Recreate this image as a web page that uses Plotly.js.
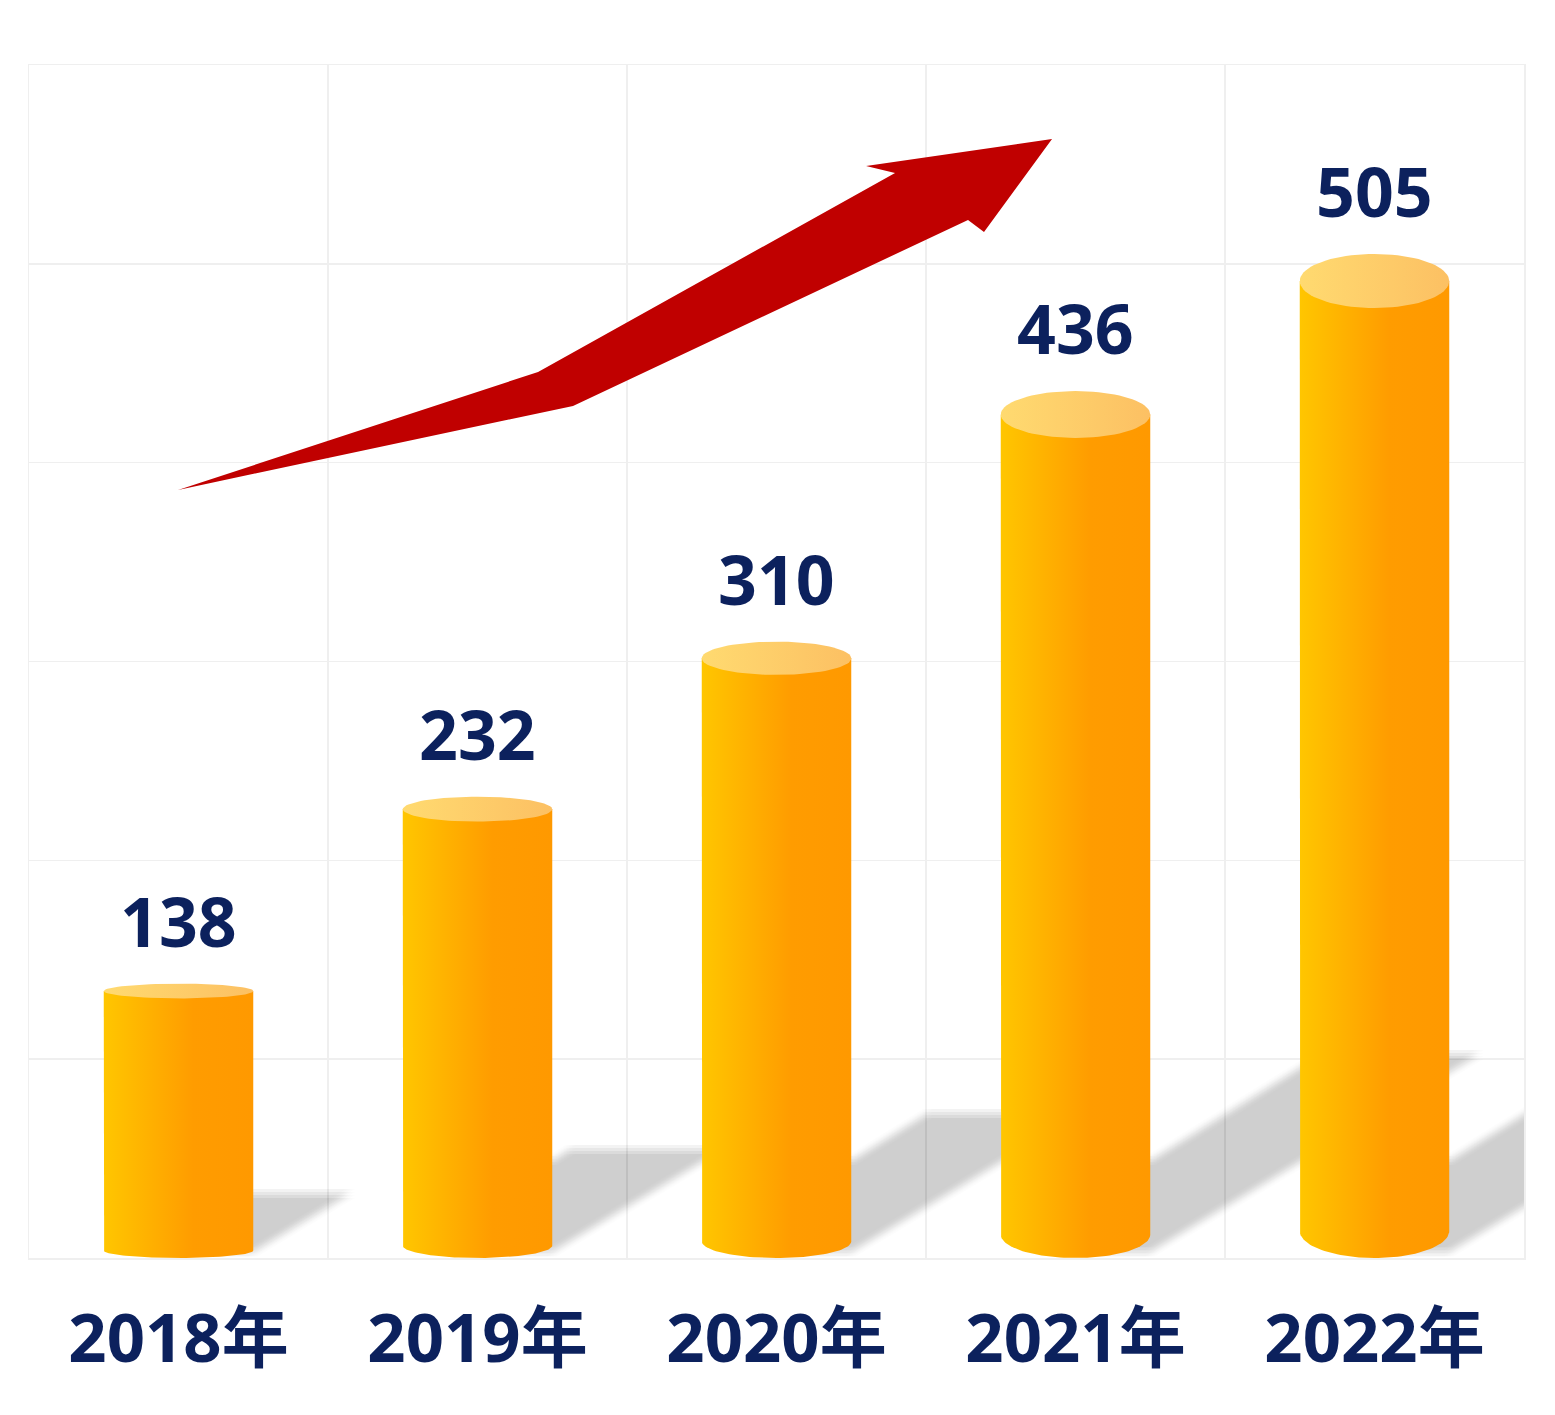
<!DOCTYPE html>
<html>
<head>
<meta charset="utf-8">
<script src="https://cdn.plot.ly/plotly-3.0.1.min.js"></script>
<style>html,body{margin:0;padding:0;background:#fff;}#chart{width:1555px;height:1415px;}</style>
</head>
<body>
<div id="chart"></div>
<script>
// ---- data ----
const years = ['2018年', '2019年', '2020年', '2021年', '2022年'];
const values = [138, 232, 310, 436, 505];

// ---- style / geometry constants ----
const NAVY = '#0c215d';
const FONT = "'Noto Sans', 'Noto Sans CJK SC', sans-serif";
const HALF_W = 0.25;          // half bar width in category units
const ELL_K = 0.027;          // ellipse half-height relative to value
const PX_X = 299, PX_Y = 1193 / 600; // pixels per unit (plot area 1495x1193)
const W = 1555, H = 1415, ML = 29, MR = 31, MT = 65, MB = 157;

function ellipsePts(cx, cy, rx, ry, a0, a1, n) {
  const xs = [], ys = [];
  for (let k = 0; k <= n; k++) {
    const t = a0 + (a1 - a0) * k / n;
    xs.push(cx + rx * Math.cos(t));
    ys.push(cy + ry * Math.sin(t));
  }
  return [xs, ys];
}

const traces = [];

// shadows (drawn first)
values.forEach((v, i) => {
  const right = i + HALF_W;
  const lowSlope = 0.6 * PX_X / PX_Y;   // data units per category unit
  const upSlope = 0.62 * PX_X / PX_Y;
  const base = 3, start = 49;
  const cap = 0.235 * v;
  const top0 = Math.min(start, cap);
  const knee = cap > start ? right + (cap - start) / upSlope : right;
  const xEnd = right + (cap - base) / lowSlope;
  const px = [i, right, xEnd, knee, right, i];
  const py = [base, base, cap, cap, top0, top0];
  const offs = [];
  [-4.5, -1.5, 1.5, 4.5].forEach(a => [-4.5, -1.5, 1.5, 4.5].forEach(b => offs.push([a, b])));
  offs.forEach(o => {
    traces.push({
      type: 'scatter', mode: 'lines', fill: 'toself',
      x: px.map(x => x + o[0] / PX_X), y: py.map(y => y + o[1] / PX_Y),
      line: {width: 0}, fillcolor: 'rgba(0,0,0,0.0122)',
      hoverinfo: 'skip', showlegend: false
    });
  });
});

// cylinders
values.forEach((v, i) => {
  const h = ELL_K * v;
  // body
  const [bx, by] = ellipsePts(i, h, HALF_W, h, Math.PI, 2 * Math.PI, 60);
  const xs = [i - HALF_W].concat(bx, [i + HALF_W, i - HALF_W]);
  const ys = [v - h].concat(by, [v - h, v - h]);
  traces.push({
    type: 'scatter', mode: 'lines', fill: 'toself', x: xs, y: ys,
    line: {width: 0},
    fillgradient: {type: 'horizontal', colorscale: [[0, '#FFC600'], [0.6, '#FF9C00'], [1, '#FF9900']]},
    hoverinfo: 'skip', showlegend: false
  });
  // top cap
  const [cx, cy] = ellipsePts(i, v - h, HALF_W, h, 0, 2 * Math.PI, 80);
  traces.push({
    type: 'scatter', mode: 'lines', fill: 'toself', x: cx, y: cy,
    line: {width: 0},
    fillgradient: {type: 'horizontal', colorscale: [[0, '#FFDA70'], [1, '#FCC063']]},
    hoverinfo: 'skip', showlegend: false
  });
});

// red arrow (decoration) in pixel space -> paper
const arrowPx = [[178, 490], [538, 372], [895, 173], [866, 166], [1052, 139], [984, 232], [968, 220], [573, 406]];
const toPaper = p => [((p[0] - ML) / (W - ML - MR)).toFixed(4), ((H - MB - p[1]) / (H - MT - MB)).toFixed(4)];
const arrowPath = 'M' + arrowPx.map(p => toPaper(p).join(',')).join(' L') + ' Z';

const annotations = values.map((v, i) => ({
  x: i, y: v, xref: 'x', yref: 'y', text: String(v), showarrow: false,
  yanchor: 'bottom', yshift: 15,
  font: {family: FONT, size: 68, color: NAVY, weight: 700}
}));

const gridC = '#efefef';
const layout = {
  width: W, height: H,
  margin: {l: ML, r: MR, t: MT, b: MB},
  paper_bgcolor: '#ffffff', plot_bgcolor: '#ffffff',
  showlegend: false,
  xaxis: {
    range: [-0.5, 4.5], tickmode: 'array', tickvals: [0, 1, 2, 3, 4], ticktext: years,
    showgrid: false, zeroline: false, ticks: '', fixedrange: true,
    showline: true, mirror: true, linecolor: gridC, linewidth: 1.5,
    ticklabelstandoff: 22,
    tickfont: {family: FONT, size: 67, color: NAVY, weight: 700},
    minor: {tickmode: 'array', tickvals: [0.5, 1.5, 2.5, 3.5], showgrid: true, gridcolor: gridC, gridwidth: 1.5, ticks: ''}
  },
  yaxis: {
    range: [0, 600], tickmode: 'linear', tick0: 0, dtick: 100,
    showgrid: true, gridcolor: gridC, gridwidth: 1.5, zeroline: false,
    showticklabels: false, ticks: '', fixedrange: true,
    showline: true, mirror: true, linecolor: gridC, linewidth: 1.5
  },
  shapes: [{type: 'path', xref: 'paper', yref: 'paper', path: arrowPath,
    fillcolor: '#C00000', line: {width: 0}, layer: 'above'}],
  annotations: annotations
};

Plotly.newPlot('chart', traces, layout, {displayModeBar: false, staticPlot: true});
</script>
</body>
</html>
